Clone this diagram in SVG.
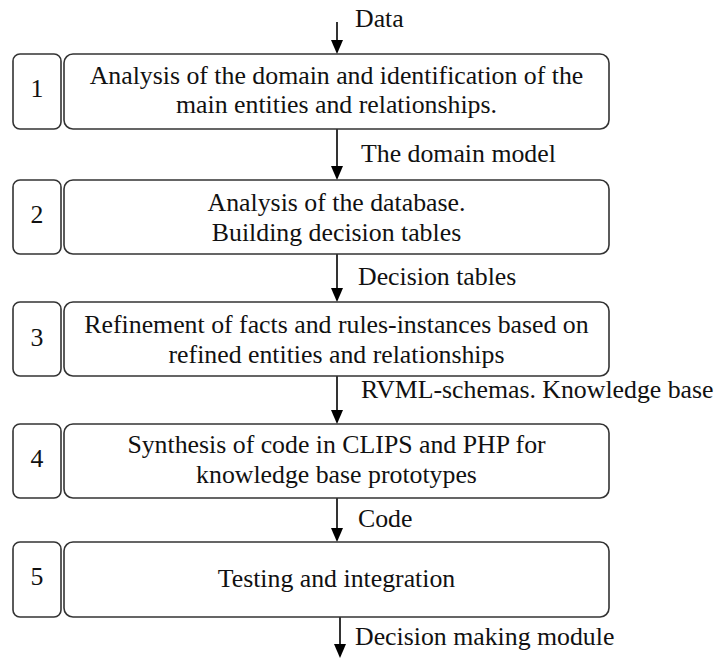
<svg xmlns="http://www.w3.org/2000/svg" width="718" height="658" viewBox="0 0 718 658">
<style>
.box{fill:#fff;stroke:#333;stroke-width:1.6}
.t{font-family:"Liberation Serif","Times New Roman",serif;font-size:25.8px;fill:#111}
.c{text-anchor:middle}
.ln{stroke:#000;stroke-width:1.6;fill:none}
</style>
<rect width="718" height="658" fill="#fff"/>
<g id="connectors">
<line class="ln" x1="337" y1="22" x2="337" y2="40"/><path d="M331,40 L343,40 L337,54 Z"/>
<line class="ln" x1="337" y1="129" x2="337" y2="166"/><path d="M331,166 L343,166 L337,180 Z"/>
<line class="ln" x1="337" y1="254" x2="337" y2="288"/><path d="M331,288 L343,288 L337,302 Z"/>
<line class="ln" x1="337" y1="376" x2="337" y2="410"/><path d="M331,410 L343,410 L337,424 Z"/>
<line class="ln" x1="337" y1="498" x2="337" y2="528"/><path d="M331,528 L343,528 L337,542 Z"/>
<line class="ln" x1="340" y1="617" x2="340" y2="644"/><path d="M334,644 L346,644 L340,658 Z"/>
<text class="t" x="355" y="27">Data</text>
<text class="t" x="361" y="162">The domain model</text>
<text class="t" x="358" y="285">Decision tables</text>
<text class="t" x="361" y="398">RVML-schemas. Knowledge base</text>
<text class="t" x="358" y="527">Code</text>
<text class="t" x="355" y="645">Decision making module</text>
</g>
<g id="n1">
<rect class="box" x="13" y="54" width="48" height="75" rx="7"/>
<text class="t c" x="37" y="97">1</text>
<rect class="box" x="64" y="54" width="545" height="75" rx="9"/>
<text class="t c" x="336.5" y="84">Analysis of the domain and identification of the</text>
<text class="t c" x="336.5" y="113">main entities and relationships.</text>
</g>
<g id="n2">
<rect class="box" x="13" y="180" width="48" height="74" rx="7"/>
<text class="t c" x="37" y="223">2</text>
<rect class="box" x="64" y="180" width="545" height="74" rx="9"/>
<text class="t c" x="336.5" y="211">Analysis of the database.</text>
<text class="t c" x="336.5" y="241">Building decision tables</text>
</g>
<g id="n3">
<rect class="box" x="13" y="302" width="48" height="74" rx="7"/>
<text class="t c" x="37" y="346">3</text>
<rect class="box" x="64" y="302" width="545" height="74" rx="9"/>
<text class="t c" x="336.5" y="333">Refinement of facts and rules-instances based on</text>
<text class="t c" x="336.5" y="363">refined entities and relationships</text>
</g>
<g id="n4">
<rect class="box" x="13" y="424" width="48" height="74" rx="7"/>
<text class="t c" x="37" y="467">4</text>
<rect class="box" x="64" y="424" width="545" height="74" rx="9"/>
<text class="t c" x="336.5" y="453">Synthesis of code in CLIPS and PHP for</text>
<text class="t c" x="336.5" y="483">knowledge base prototypes</text>
</g>
<g id="n5">
<rect class="box" x="13" y="542" width="48" height="75" rx="7"/>
<text class="t c" x="37" y="585">5</text>
<rect class="box" x="64" y="542" width="545" height="75" rx="9"/>
<text class="t c" x="336.5" y="587">Testing and integration</text>
</g>
</svg>
